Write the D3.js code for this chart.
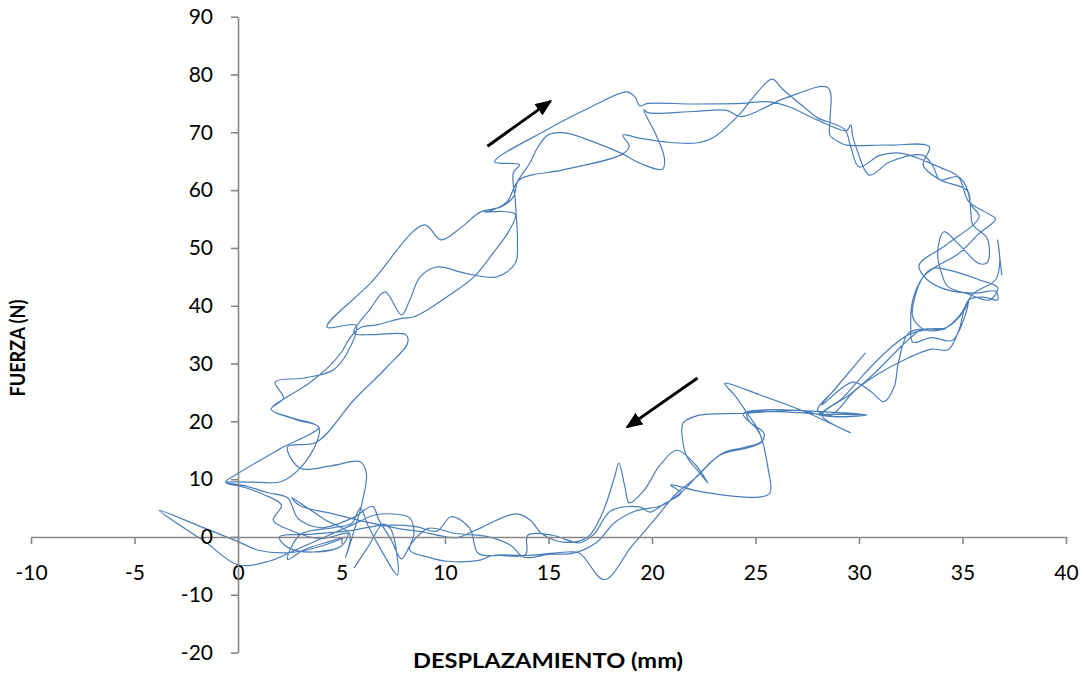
<!DOCTYPE html>
<html><head><meta charset="utf-8">
<script src="https://cdn.jsdelivr.net/npm/d3@7"></script>
<style>body{margin:0;background:#fff}</style>
</head><body><svg id="c" width="1084" height="679"></svg>
<script>
const xTicks = [-10,-5,0,5,10,15,20,25,30,35,40];
const yTicks = [-20,-10,0,10,20,30,40,50,60,70,80,90];
const xTitle = "DESPLAZAMIENTO (mm)";
const yTitle = "FUERZA (N)";

// [desplazamiento (mm), fuerza (N)], in drawing order
const tramo1 = [[5.6,-5.4],[6.3,-1.6],[7.0,2.2],[7.4,1.2],[7.7,-6.6],[7.0,-2.8],[6.3,1.8],[5.9,5.0],[5.5,2.4],[4.6,1.6],[3.0,0.4],[2.4,-3.9],[3.2,-2.2],[4.4,-0.8],[5.2,0.0],[4.0,-1.6],[2.5,-2.7],[1.0,-2.3],[0.0,-0.8],[-1.8,1.8],[-3.8,4.6],[-3.2,3.0],[-1.6,-0.8],[0.0,-4.8],[1.5,-4.2],[2.8,-2.2],[4.2,0.0],[5.7,2.4],[6.6,3.8],[7.9,3.8],[8.3,3.3],[8.5,0.5],[8.3,-2.3],[9.2,-3.5],[10.1,-4.2],[11.7,-4.0],[12.3,-3.2],[14.0,-3.2],[15.9,-2.6],[16.5,-2.8],[17.7,-7.4],[19.0,-1.7],[20.1,2.9],[21.2,7.6],[22.0,9.9],[23.4,14.5],[24.5,15.5],[25.3,16.6],[25.1,18.5],[24.4,21.3],[25.5,22.0],[27.5,21.8],[30.4,21.1],[28.5,21.0],[28.0,22.0],[28.8,25.4],[30.3,31.8],[29.0,26.3],[28.2,22.8],[29.7,26.8],[30.6,25.1],[31.2,23.4],[31.7,26.0],[31.9,30.1],[32.4,35.3],[33.3,36.0],[34.2,36.0],[33.2,35.8],[32.6,38.0],[32.7,41.5],[33.1,45.0],[33.6,46.5],[34.3,46.2],[35.8,44.5],[36.7,43.1],[36.3,41.0],[35.3,42.0],[34.3,43.3],[34.0,45.5],[33.8,49.1],[34.1,52.8],[34.8,50.7],[35.8,47.3],[36.2,47.5],[36.2,51.6],[35.5,54.0],[35.4,56.3]];
const tramo2 = [[35.3,59.5],[34.8,62.3],[33.9,61.8],[33.6,64.0],[33.1,66.0],[31.5,64.9],[30.5,62.6],[29.9,67.0],[29.7,69.2],[29.6,71.3],[29.4,70.3],[28.0,72.1],[26.7,74.3],[25.6,75.3],[24.3,75.0],[22.0,74.9],[19.8,75.0],[19.4,74.6],[19.2,76.0],[18.8,77.0],[17.0,74.3],[14.9,70.4],[12.4,64.9],[13.6,64.4],[13.3,63.0],[13.4,58.0],[13.5,51.0],[13.4,47.4],[12.5,45.0],[11.0,45.6],[9.6,46.7],[8.8,45.0],[8.3,41.0],[7.9,38.4],[7.1,42.4],[6.4,39.5],[5.6,35.3],[6.5,35.0],[8.1,35.0],[8.2,33.6],[7.2,29.4],[5.6,23.7],[3.8,16.4],[2.4,15.6],[3.0,11.9],[4.5,12.3],[5.9,13.0],[6.2,11.0],[6.0,6.0],[5.6,1.0],[5.2,-3.5]];
const tramo3 = [[5.4,0.5],[4.2,3.0],[2.6,6.8],[3.0,5.4],[4.6,4.0],[6.2,2.6],[7.7,1.5],[9.0,0.8],[10.1,0.0],[10.6,-0.1],[11.5,1.2],[13.4,4.0],[14.1,3.0],[14.7,0.5],[15.7,-0.9],[16.9,0.0],[17.6,4.1],[18.2,10.5],[18.4,12.8],[18.7,8.5],[18.9,5.9],[19.6,8.0],[20.4,12.5],[21.2,15.0],[22.1,12.5],[22.7,9.3],[22.3,11.1],[21.7,13.8],[21.5,16.3],[21.5,19.7],[22.2,21.0],[24.5,21.4],[27.2,21.9],[28.6,21.0],[29.7,25.0],[30.4,27.0],[32.4,31.0],[33.5,32.5],[34.3,32.4],[34.8,35.5],[35.3,41.0],[36.0,41.5],[36.7,41.0],[36.6,42.5],[35.7,42.2],[34.3,42.7],[33.3,44.5],[32.9,47.0],[34.2,50.5],[35.8,55.4]];
const tramo4 = [[35.4,57.5],[35.2,60.0],[33.9,61.8],[33.1,64.3],[33.4,67.5],[31.5,67.8],[29.4,67.8],[29.1,68.2],[28.6,69.5],[28.6,72.1],[28.5,77.7],[26.5,76.0],[24.3,72.7],[23.6,73.8],[22.0,73.6],[19.8,73.4],[19.6,73.9],[20.2,69.5],[20.6,65.5],[20.5,63.6],[19.4,64.7],[18.5,66.4],[17.2,68.3],[15.8,69.9],[15.0,69.6],[14.5,67.5],[14.1,64.7],[13.5,61.4],[13.3,58.8],[12.7,57.1],[11.7,56.2],[10.8,53.6],[9.8,51.4],[9.0,54.0],[6.4,43.9],[4.3,36.3],[5.7,36.6],[5.3,32.0],[4.6,28.9],[3.2,27.5],[1.8,26.8],[2.2,24.0],[1.6,22.1],[2.8,20.3],[3.9,19.0],[2.0,15.2],[0.0,11.0],[-0.6,9.5],[0.3,8.6],[1.2,7.4],[2.1,5.5],[1.7,2.9]];
const tramo5 = [[2.5,1.2],[4.0,-0.3],[5.3,0.6],[5.0,-1.5],[3.6,-2.6],[2.4,-1.8],[2.0,0.0],[3.6,0.5],[5.2,1.0],[7.0,2.0],[8.6,1.8],[9.6,1.0],[10.3,3.5],[11.2,1.5],[11.6,-2.8],[12.7,-3.2],[13.9,-3.0],[14.0,0.3],[15.2,0.3],[16.5,-1.0],[17.2,0.5],[18.0,4.5],[19.4,5.2],[19.9,4.3],[20.6,5.8],[21.4,7.6],[20.9,9.0],[22.4,7.8],[25.2,6.9],[25.7,7.6],[25.6,12.0],[25.2,18.0],[24.6,21.4],[24.0,24.5],[23.5,26.6],[25.2,24.6],[27.5,21.5],[29.6,18.0],[28.6,19.8],[28.2,21.1],[29.5,24.5],[30.5,27.5],[32.5,34.5],[33.0,35.8],[34.2,36.2],[35.1,39.3],[35.3,41.0],[35.1,38.0],[34.5,34.0],[33.5,34.5],[32.6,33.7],[32.5,36.3],[32.6,41.0],[33.1,45.0],[33.6,46.5]];
const tramo6 = [[34.8,49.0],[35.8,52.5],[36.6,55.0],[36.2,56.0],[35.3,58.0],[34.8,62.3],[34.0,63.8],[32.0,66.4],[31.0,66.0],[30.0,64.0],[29.6,67.5],[29.3,70.5],[28.0,72.5],[27.5,73.9],[26.3,77.5],[25.8,79.2],[24.9,76.1],[24.3,73.4],[23.0,69.2],[22.2,68.2],[20.7,68.3],[19.4,69.0],[18.6,69.5],[18.9,67.5],[18.5,66.1],[15.7,63.5],[13.6,61.8],[13.0,58.0],[12.2,56.4],[11.9,56.2],[12.8,56.3],[13.4,55.8],[13.1,53.0],[12.3,49.0],[11.4,45.0],[10.2,41.8],[9.2,39.4],[8.5,38.1],[7.9,37.8],[6.7,36.7],[5.9,36.2],[5.4,34.4],[5.0,32.0],[4.4,29.5],[3.4,26.5],[2.5,24.5],[1.6,22.1],[2.6,20.6],[3.9,19.0],[3.8,16.4],[3.0,11.9],[2.1,9.6],[0.6,9.5],[-0.6,9.5],[0.4,8.8],[1.4,7.7],[2.4,6.8],[2.6,5.5]];
const tramo7 = [[2.9,3.2],[4.0,1.6],[5.6,3.4],[6.5,5.3],[6.8,3.0],[7.4,-0.5],[7.9,-3.8],[8.4,-1.0],[9.2,1.5],[10.5,0.6],[12.0,0.1],[13.2,-1.5],[13.8,-3.5],[15.0,-3.0],[16.2,-2.8],[17.3,-1.0],[18.2,2.5],[19.2,4.5],[20.5,5.5],[21.5,8.0],[22.3,11.0],[23.3,14.2],[24.6,15.4],[25.3,16.4],[25.4,18.0],[24.7,20.0],[24.6,21.4],[26.0,21.7],[28.0,21.3],[30.4,21.1],[28.8,20.8],[28.2,21.3],[29.2,24.0],[30.2,28.0],[31.3,32.0],[32.4,35.0],[33.5,36.0],[34.2,36.2],[34.9,38.5],[35.5,42.0],[36.6,44.5],[36.8,47.5],[36.7,51.4],[36.9,45.3]];

// annotation arrows [from, to] in data units
const flechas = [[[12.05,67.6],[15.1,75.4]],[[22.2,27.5],[18.8,19.0]]];

const serie = [].concat(tramo1, tramo2, tramo3, tramo4, tramo5, tramo6, tramo7);

const svg = d3.select("#c");
const x = d3.scaleLinear().domain([-10,40]).range([31,1066]);
const y = d3.scaleLinear().domain([-20,90]).range([652.6,16.7]);
const FONT = "Lato, 'Open Sans', sans-serif";
const AXC = "#868686";

// curve
svg.append("path")
  .datum(serie)
  .attr("fill","none")
  .attr("stroke","#4a7ebb")
  .attr("stroke-width",1.2)
  .attr("stroke-linejoin","round")
  .attr("d", d3.line().x(d=>x(d[0])).y(d=>y(d[1])).curve(d3.curveCatmullRom.alpha(0.5)));

// axes
const gx = svg.append("g").attr("transform",`translate(0,${y(0)})`)
  .call(d3.axisBottom(x).tickValues(xTicks).tickSize(7).tickSizeOuter(0).tickPadding(21).tickFormat(d=>String(d)));
const gy = svg.append("g").attr("transform",`translate(${x(0)},0)`)
  .call(d3.axisLeft(y).tickValues(yTicks).tickSize(7).tickSizeOuter(0).tickPadding(18).tickFormat(d=>String(d)));
[gx,gy].forEach(g=>{
  g.select(".domain").attr("stroke",AXC).attr("stroke-width",1.6);
  g.selectAll(".tick line").attr("stroke",AXC).attr("stroke-width",1.6);
  g.selectAll(".tick text").attr("fill","#000").style("font-family",FONT).style("font-size","21px");
});

// arrows
const defs = svg.append("defs");
defs.append("marker").attr("id","ah").attr("markerUnits","userSpaceOnUse")
  .attr("markerWidth",17).attr("markerHeight",14).attr("refX",15).attr("refY",7).attr("orient","auto")
  .append("path").attr("d","M0,0 L17,7 L0,14 Z").attr("fill","#000");
svg.selectAll("line.flecha").data(flechas).enter().append("line").attr("class","flecha")
  .attr("x1",d=>x(d[0][0])).attr("y1",d=>y(d[0][1]))
  .attr("x2",d=>x(d[1][0])).attr("y2",d=>y(d[1][1]))
  .attr("stroke","#000").attr("stroke-width",3).attr("marker-end","url(#ah)");

// titles
svg.append("text").attr("x",548).attr("y",668).attr("text-anchor","middle")
  .attr("textLength",270).attr("lengthAdjust","spacingAndGlyphs")
  .style("font-family",FONT).style("font-weight","bold").style("font-size","21px").text(xTitle);
svg.append("text").attr("transform","translate(25,348) rotate(-90)").attr("text-anchor","middle")
  .attr("textLength",97).attr("lengthAdjust","spacingAndGlyphs")
  .style("font-family",FONT).style("font-weight","bold").style("font-size","21px").text(yTitle);
</script></body></html>
